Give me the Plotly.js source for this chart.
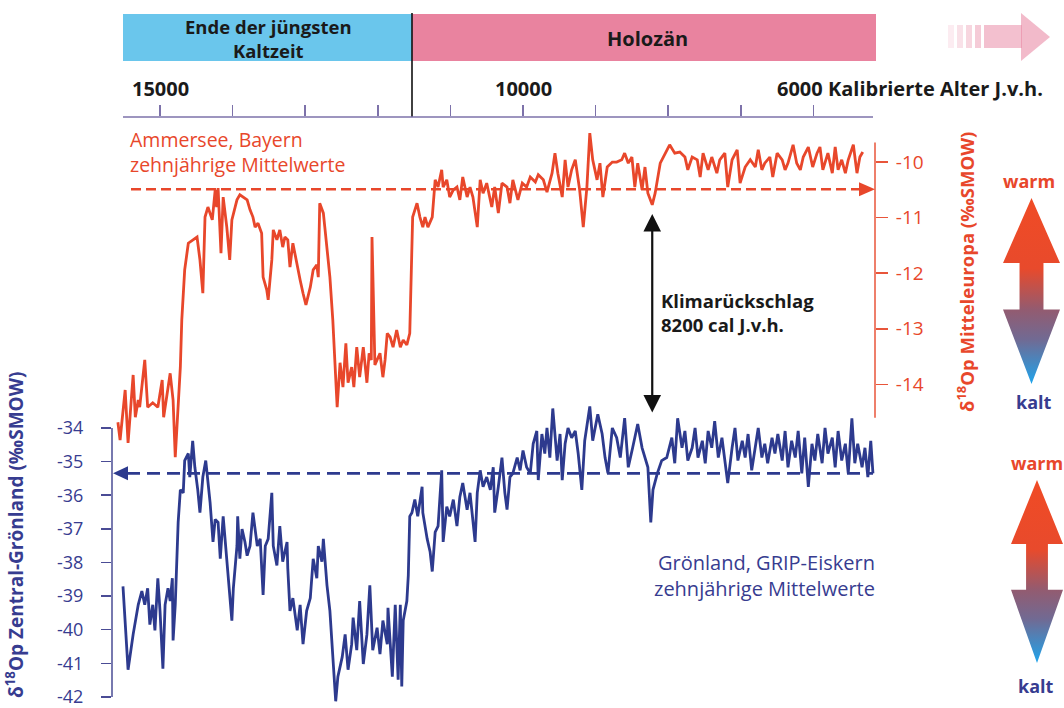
<!DOCTYPE html>
<html><head><meta charset="utf-8">
<script src="https://cdn.plot.ly/plotly-3.0.1.min.js"></script>
<style>html,body{margin:0;padding:0;background:#fff;}#chart{width:1064px;height:708px;}</style>
</head><body><div id="chart"></div>
<script>
// ---- DATA ----
const redYears = [15580,15550,15480,15440,15370,15340,15300,15280,15210,15170,
15100,15030,14970,14950,14860,14820,14790,14720,14700,14660,
14610,14550,14490,14450,14410,14380,14340,14280,14240,14220,
14200,14160,14130,14080,14040,14010,13990,13940,13900,13860,
13800,13760,13720,13690,13650,13600,13580,13530,13510,13460,
13440,13390,13350,13310,13280,13240,13210,13170,13110,13070,
13030,12990,12930,12890,12840,12820,12800,12750,12730,12690,
12660,12620,12590,12560,12520,12480,12440,12410,12360,12330,
12290,12250,12200,12150,12120,12090,12080,12040,11970,11930,
11900,11870,11830,11790,11740,11690,11650,11600,11560,11520,
11460,11420,11380,11350,11310,11250,11210,11170,11120,11100,
11050,11010,10960,10910,10870,10830,10770,10730,10690,10630,
10590,10550,10500,10430,10390,10340,10290,10220,10180,10140,
10070,10010,9950,9900,9830,9790,9720,9670,9600,9560,
9520,9460,9420,9380,9330,9280,9220,9170,9120,9080,
9040,8980,8940,8900,8840,8770,8710,8640,8600,8550,
8500,8460,8420,8360,8320,8280,8220,8180,8110,8040,
7980,7910,7840,7770,7730,7670,7600,7560,7520,7450,
7400,7330,7290,7220,7180,7120,7050,7010,6940,6870,
6800,6760,6710,6670,6600,6560,6500,6430,6390,6350,
6280,6230,6180,6140,6070,6010,5950,5910,5870,5800,
5740,5700,5660,5610,5560,5520,5450,5400,5360,5320];
const redValues = [-14.68,-15.00,-14.10,-15.05,-13.83,-14.59,-14.28,-14.41,-13.56,-14.41,
-14.33,-14.41,-13.92,-14.59,-13.80,-14.28,-15.31,-13.69,-12.84,-11.94,
-11.46,-11.40,-11.35,-11.76,-12.36,-10.99,-10.81,-11.04,-10.50,-10.81,
-10.47,-11.64,-10.63,-11.17,-11.76,-11.04,-10.92,-10.68,-10.59,-10.63,
-10.68,-10.86,-10.99,-11.17,-11.10,-11.28,-12.07,-12.30,-12.48,-11.76,
-11.22,-11.40,-11.22,-11.53,-11.35,-11.40,-11.89,-11.46,-11.89,-12.12,
-12.36,-12.57,-12.25,-11.94,-11.85,-12.07,-10.74,-10.92,-11.17,-11.76,
-12.07,-12.84,-13.69,-14.41,-13.61,-14.05,-13.26,-13.97,-13.69,-14.05,
-13.33,-13.87,-13.33,-13.97,-13.44,-13.56,-11.35,-13.65,-13.44,-13.87,
-13.56,-13.08,-13.15,-13.33,-13.02,-13.33,-13.20,-13.29,-13.08,-10.99,
-10.74,-10.99,-11.17,-10.99,-11.17,-10.99,-10.32,-10.45,-10.14,-10.45,
-10.32,-10.63,-10.50,-10.45,-10.68,-10.27,-10.63,-10.45,-10.63,-11.17,
-10.32,-10.56,-10.38,-10.81,-10.45,-10.92,-10.38,-10.45,-10.74,-10.32,
-10.68,-10.38,-10.45,-10.27,-10.36,-10.23,-10.32,-10.54,-10.20,-9.84,
-10.20,-10.63,-9.96,-10.45,-10.14,-9.96,-10.50,-11.17,-10.45,-9.48,
-9.96,-10.32,-10.02,-10.63,-10.09,-10.00,-10.00,-9.96,-9.84,-10.02,
-9.91,-10.45,-10.02,-10.50,-10.09,-10.56,-10.77,-10.56,-10.02,-9.84,
-9.69,-9.84,-9.82,-9.91,-10.14,-9.91,-9.96,-10.27,-9.84,-10.14,
-9.91,-10.20,-9.96,-9.84,-10.45,-9.96,-9.78,-10.38,-10.09,-9.96,
-10.09,-9.78,-10.14,-10.02,-9.91,-10.27,-9.84,-9.96,-10.14,-10.02,
-9.69,-10.02,-10.14,-9.91,-9.73,-10.09,-9.84,-9.73,-10.14,-9.84,
-10.20,-9.73,-10.14,-9.96,-10.20,-9.96,-9.69,-10.20,-9.91,-9.82];

const blueYears = [15510,15440,15370,15300,15250,15210,15170,15140,15100,15070,
15030,15000,14960,14930,14890,14860,14830,14820,14790,14750,
14720,14680,14660,14610,14590,14550,14520,14480,14450,14410,
14370,14340,14310,14270,14240,14200,14170,14130,14100,14080,
14040,14010,13990,13940,13930,13900,13870,13830,13800,13760,
13720,13660,13620,13580,13550,13510,13460,13440,13390,13350,
13310,13250,13240,13210,13170,13110,13070,13030,12980,12930,
12890,12840,12820,12770,12750,12700,12660,12620,12580,12550,
12490,12450,12410,12360,12340,12290,12250,12200,12150,12110,
12070,12010,11970,11930,11870,11860,11800,11760,11720,11690,
11670,11650,11600,11580,11560,11530,11490,11450,11390,11380,
11320,11280,11250,11210,11170,11120,11100,11050,11010,10960,
10910,10870,10830,10770,10730,10660,10630,10590,10550,10500,
10450,10410,10390,10340,10290,10250,10220,10180,10140,10080,
10040,10000,9950,9900,9860,9810,9790,9740,9700,9670,
9630,9590,9530,9490,9460,9420,9380,9330,9280,9240,
9190,9150,9080,9040,8970,8910,8870,8830,8770,8710,
8660,8600,8550,8490,8420,8360,8320,8280,8240,8210,
8150,8090,8020,7950,7910,7870,7810,7770,7730,7670,
7630,7590,7530,7490,7450,7400,7360,7310,7260,7220,
7180,7120,7080,7040,6980,6940,6900,6850,6800,6760,
6710,6670,6630,6570,6530,6490,6430,6390,6350,6300,
6250,6210,6160,6120,6070,6020,5980,5940,5880,5840,
5800,5740,5700,5660,5610,5560,5520,5470,5430,5390,
5330,5290,5250,5210,5180];
const blueValues = [-38.71,-41.19,-40.14,-39.26,-38.85,-39.26,-38.77,-39.85,-39.26,-40.02,
-38.47,-39.44,-41.16,-39.26,-38.77,-39.15,-38.47,-40.32,-39.26,-36.81,
-35.84,-35.93,-34.97,-34.76,-35.46,-34.38,-35.17,-35.84,-36.52,-35.46,
-34.97,-35.55,-36.22,-37.39,-36.72,-36.81,-37.89,-36.63,-37.45,-37.98,
-39.06,-39.73,-38.77,-37.51,-36.63,-37.89,-37.01,-37.39,-37.80,-37.51,
-36.52,-37.51,-37.30,-38.97,-37.51,-37.30,-35.93,-37.51,-38.09,-36.92,
-37.98,-37.39,-38.18,-39.44,-39.06,-40.02,-39.26,-40.43,-39.44,-39.06,
-37.89,-38.47,-37.51,-37.98,-37.30,-38.68,-39.44,-40.90,-42.13,-41.40,
-40.81,-40.14,-41.19,-40.43,-39.64,-40.61,-39.15,-41.02,-40.14,-38.68,
-40.61,-39.94,-40.73,-39.73,-40.43,-39.35,-41.40,-39.26,-41.49,-39.26,
-41.69,-39.73,-39.15,-38.39,-36.63,-36.52,-36.13,-36.63,-35.75,-36.52,
-37.30,-37.68,-38.27,-37.10,-36.92,-35.26,-37.39,-36.34,-36.63,-36.13,
-36.92,-36.05,-35.64,-36.43,-35.93,-37.39,-35.93,-35.26,-35.75,-35.46,
-35.84,-35.17,-36.52,-35.75,-34.88,-35.93,-36.43,-35.46,-35.35,-34.88,
-35.26,-34.67,-35.17,-35.35,-34.47,-34.09,-35.55,-34.18,-34.76,-34.00,
-34.88,-33.42,-34.97,-34.18,-35.55,-34.47,-34.00,-34.29,-34.09,-34.76,
-35.84,-34.38,-33.36,-34.38,-33.59,-34.18,-34.88,-35.35,-34.00,-34.29,
-34.88,-33.71,-35.17,-34.59,-33.88,-34.59,-34.88,-35.17,-36.81,-35.84,
-35.35,-34.97,-34.88,-34.29,-35.05,-33.71,-34.59,-34.09,-34.97,-34.59,
-34.00,-34.88,-34.38,-35.05,-34.09,-34.59,-33.80,-34.88,-34.29,-35.05,
-35.64,-34.59,-34.00,-34.97,-34.38,-34.88,-34.18,-35.26,-34.59,-34.00,
-34.88,-34.47,-35.05,-34.29,-34.76,-34.18,-34.97,-34.09,-35.17,-34.38,
-34.88,-34.09,-35.35,-34.29,-35.75,-34.47,-34.97,-34.18,-35.05,-34.00,
-34.76,-34.29,-35.17,-34.09,-34.97,-34.47,-35.35,-33.71,-35.05,-34.47,
-35.17,-34.59,-35.46,-34.38,-35.35];

const xTickYears = [15000,14000,13000,12000,11000,10000,9000,8000,7000,6000];
const xLabelYears = [15000,10000];
const xAxisName = "Kalibrierte Alter J.v.h.";
const redTicks = [-10,-11,-12,-13,-14];
const blueTicks = [-34,-35,-36,-37,-38,-39,-40,-41,-42];
const redMean = -10.49;
const blueMean = -35.35;
const eventYear = 8220;
const eventLabel = ["Klimarückschlag","8200 cal J.v.h."];
const periodLabels = [["Ende der jüngsten","Kaltzeit"],["Holozän"]];

// ---- LAYOUT GEOMETRY (pixels) ----
const L = 112, R = 875, T = 117, B = 708;
const X = p => (p - L) / (R - L);
const Y = p => (B - p) / (B - T);
const FONT = "Open Sans, Noto Sans, sans-serif";
const RED = "#e8472b", BLUE = "#2d3a8e", BLUETXT = "#373c90", DARK = "#1a1a1a";
const yRedRange = [-19.82, -9.19], yBlueRange = [-42.33, -24.75];
const redPix = v => B - (v - yRedRange[0]) / (yRedRange[1] - yRedRange[0]) * (B - T);
const bluePix = v => B - (v - yBlueRange[0]) / (yBlueRange[1] - yBlueRange[0]) * (B - T);

const traces = [
  {x: blueYears, y: blueValues, yaxis: 'y', type: 'scatter', mode: 'lines',
   line: {color: BLUE, width: 2.8}, hoverinfo: 'skip'},
  {x: redYears, y: redValues, yaxis: 'y2', type: 'scatter', mode: 'lines',
   line: {color: RED, width: 2.8}, hoverinfo: 'skip'}
];

function svgArrow(){
  const s = '<svg xmlns="http://www.w3.org/2000/svg" viewBox="0 0 100 100" preserveAspectRatio="none">' +
   '<defs><linearGradient id="g" x1="0" y1="0" x2="0" y2="1">' +
   '<stop offset="0" stop-color="#f04b25"/><stop offset="0.38" stop-color="#e84a2c"/>' +
   '<stop offset="0.6" stop-color="#935b70"/><stop offset="0.76" stop-color="#716a93"/>' +
   '<stop offset="1" stop-color="#1ea4ec"/></linearGradient></defs>' +
   '<path d="M50,0 L100,35 L71,35 L71,60 L100,60 L50,100 L0,60 L29,60 L29,35 L0,35 Z" fill="url(#g)"/></svg>';
  return 'data:image/svg+xml;charset=utf-8,' + encodeURIComponent(s);
}

const shapes = [
  {type:'rect', xref:'paper', yref:'paper', x0:X(123), x1:X(412), y0:Y(61), y1:Y(14), fillcolor:'#6ac6ec', line:{width:0}},
  {type:'rect', xref:'paper', yref:'paper', x0:X(412), x1:X(876), y0:Y(61), y1:Y(14), fillcolor:'#e9839f', line:{width:0}},
  {type:'line', xref:'paper', yref:'paper', x0:X(412), x1:X(412), y0:Y(13), y1:Y(117), line:{color:'#111', width:1.6}},
  {type:'line', xref:'paper', yref:'paper', x0:X(123), x1:X(873), y0:Y(117), y1:Y(117), line:{color:'#7d72aa', width:1.6}},
  {type:'line', xref:'paper', yref:'y2', x0:1, x1:1, y0:-9.65, y1:-14.6, line:{color:'#e8553a', width:1.5}},
  {type:'line', xref:'paper', yref:'y', x0:0, x1:0, y0:-34, y1:-42, line:{color:'#4a4c95', width:1.5}},
  {type:'line', xref:'paper', yref:'y2', x0:X(131), x1:X(861), y0:redMean, y1:redMean, layer:'below', line:{color:RED, width:2.6, dash:'10px,5px'}},
  {type:'path', xref:'paper', yref:'paper', path:`M ${X(859)},${Y(redPix(redMean)-7)} L ${X(875)},${Y(redPix(redMean))} L ${X(859)},${Y(redPix(redMean)+7)} Z`, fillcolor:RED, line:{width:0}},
  {type:'line', xref:'paper', yref:'y', x0:X(127), x1:X(873), y0:blueMean, y1:blueMean, layer:'below', line:{color:BLUE, width:2.6, dash:'13px,7px'}},
  {type:'path', xref:'paper', yref:'paper', path:`M ${X(128)},${Y(bluePix(blueMean)-7)} L ${X(113)},${Y(bluePix(blueMean))} L ${X(128)},${Y(bluePix(blueMean)+7)} Z`, fillcolor:BLUE, line:{width:0}}
];
// faded arrow at top right
[[948,954,0.15],[957,963,0.24],[966,972,0.33],[975,981,0.42]].forEach(b=>{
  shapes.push({type:'rect', xref:'paper', yref:'paper', x0:X(b[0]), x1:X(b[1]), y0:Y(48), y1:Y(25), fillcolor:'#e8829f', opacity:b[2], line:{width:0}});
});
shapes.push({type:'rect', xref:'paper', yref:'paper', x0:X(984), x1:X(1022), y0:Y(48), y1:Y(25), fillcolor:'#e8829f', opacity:0.5, line:{width:0}});
shapes.push({type:'path', xref:'paper', yref:'paper', path:`M ${X(1021)},${Y(13)} L ${X(1050)},${Y(37)} L ${X(1021)},${Y(61)} Z`, fillcolor:'#e8829f', opacity:0.55, line:{width:0}});

function txt(text, px, py, opts){
  return Object.assign({text:text, xref:'paper', yref:'paper', x:X(px), y:Y(py), showarrow:false,
    xanchor:'center', yanchor:'middle', borderpad:0, font:{family:FONT, size:20, color:DARK}}, opts||{});
}
const annotations = [
  Object.assign(txt('<b>'+xLabelYears[0]+'</b>', 0, 88), {xref:'x', x:xLabelYears[0]}),
  Object.assign(txt('<b>'+xLabelYears[1]+'</b>', 0, 88), {xref:'x', x:xLabelYears[1]}),
  txt('<b>6000 '+xAxisName+'</b>', 776, 88, {xanchor:'left'}),
  txt('<b>'+periodLabels[0][0]+'<br>'+periodLabels[0][1]+'</b>', 268, 38, {font:{family:FONT, size:18.5, color:DARK}}),
  txt('<b>'+periodLabels[1][0]+'</b>', 647, 38),
  txt('Ammersee, Bayern<br>zehnjährige Mittelwerte', 129, 152, {xanchor:'left', align:'left', font:{family:FONT, size:19.5, color:RED}}),
  txt('Grönland, GRIP-Eiskern<br>zehnjährige Mittelwerte', 876, 575, {xanchor:'right', align:'right', font:{family:FONT, size:20, color:BLUETXT}}),
  txt('<b>'+eventLabel[0]+'<br>'+eventLabel[1]+'</b>', 660, 312, {xanchor:'left', align:'left', font:{family:FONT, size:18.5, color:DARK}}),
  txt('<b>δ<sup>18</sup>Op Mitteleuropa (‰SMOW)</b>', 965, 272, {textangle:-90, font:{family:FONT, size:18.5, color:RED}}),
  txt('<b>δ<sup>18</sup>Op Zentral-Grönland (‰SMOW)</b>', 15, 535, {textangle:-90, font:{family:FONT, size:19, color:BLUETXT}}),
  txt('<b>warm</b>', 1029, 181, {font:{family:FONT, size:18, color:RED}}),
  txt('<b>kalt</b>', 1034, 402, {font:{family:FONT, size:18, color:BLUETXT}}),
  txt('<b>warm</b>', 1037, 463, {font:{family:FONT, size:18, color:RED}}),
  txt('<b>kalt</b>', 1036, 686, {font:{family:FONT, size:18, color:BLUETXT}}),
  {text:'', xref:'x', yref:'paper', x:eventYear, y:Y(214), ax:0, ay:200, showarrow:true,
   arrowhead:2, startarrowhead:2, arrowside:'end+start', arrowsize:1.6, startarrowsize:1.6,
   arrowwidth:2.2, arrowcolor:'#111'}
];

const images = [
  {source:svgArrow(), xref:'paper', yref:'paper', x:X(1003), y:Y(198), sizex:57/(R-L), sizey:186/(B-T), xanchor:'left', yanchor:'top', sizing:'stretch', layer:'above'},
  {source:svgArrow(), xref:'paper', yref:'paper', x:X(1011), y:Y(480), sizex:52/(R-L), sizey:183/(B-T), xanchor:'left', yanchor:'top', sizing:'stretch', layer:'above'}
];

const layout = {
  width:1064, height:708, showlegend:false,
  margin:{l:L, r:1064-R, t:T, b:708-B},
  paper_bgcolor:'#fff', plot_bgcolor:'rgba(0,0,0,0)',
  font:{family:FONT},
  xaxis:{range:[15661.3, 5151.7], side:'top', tickvals:xTickYears, ticks:'outside', ticklen:11, tickwidth:1.6,
    tickcolor:'#7d72aa', showticklabels:false, showgrid:false, zeroline:false, showline:false, fixedrange:true},
  yaxis:{range:yBlueRange, tickvals:blueTicks, ticktext:blueTicks.map(String), ticks:'outside', ticklen:10, tickwidth:1.5,
    tickcolor:'#4a4c95', tickfont:{family:FONT, size:18, color:BLUETXT}, ticklabelstandoff:14, ticklabeloverflow:'allow',
    showgrid:false, zeroline:false, showline:false, fixedrange:true},
  yaxis2:{range:yRedRange, overlaying:'y', side:'right', anchor:'x', tickvals:redTicks, ticktext:redTicks.map(String),
    ticks:'outside', ticklen:12, tickwidth:1.5, tickcolor:'#e8553a', tickfont:{family:FONT, size:19, color:RED},
    ticklabelstandoff:4, ticklabeloverflow:'allow', showgrid:false, zeroline:false, showline:false, fixedrange:true},
  shapes:shapes, annotations:annotations, images:images
};
Plotly.newPlot('chart', traces, layout, {displayModeBar:false, staticPlot:true});
</script></body></html>
